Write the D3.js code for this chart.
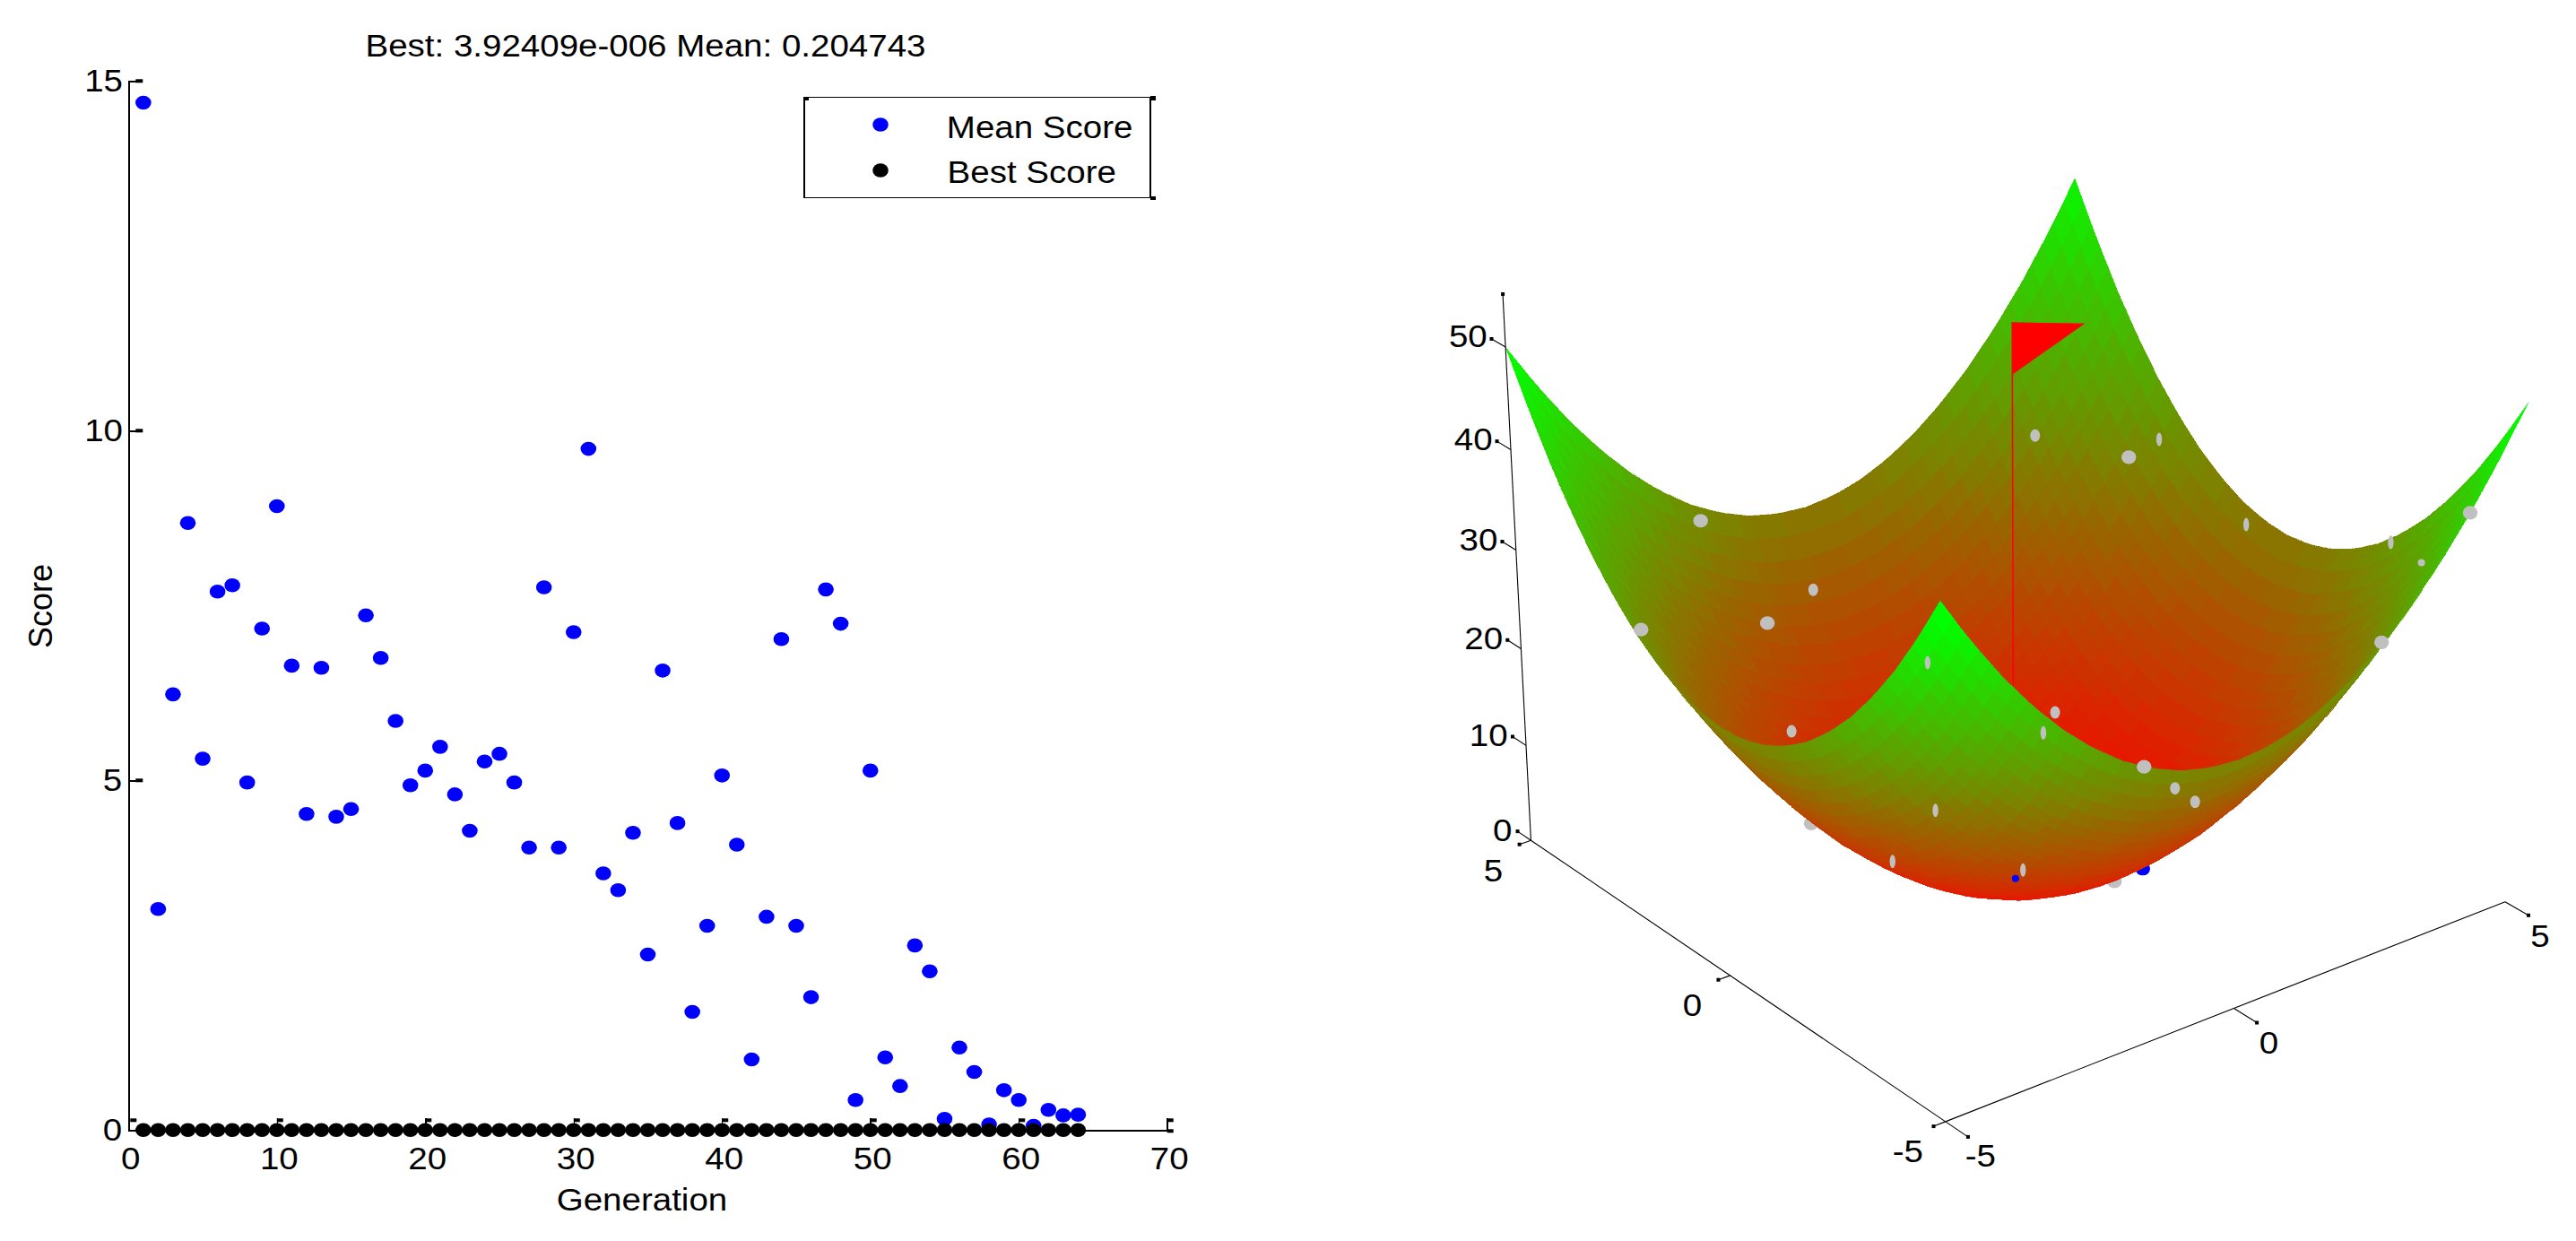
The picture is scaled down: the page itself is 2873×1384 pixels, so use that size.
<!DOCTYPE html>
<html>
<head>
<meta charset="utf-8">
<script src="https://d3js.org/d3.v7.min.js"></script>
<style>
  body { margin: 0; background: #fff; }
  text { font-family: "Liberation Sans", Arial, sans-serif; font-size: 35.5px; fill: #000;
    transform-box: fill-box; transform-origin: center; transform: scaleX(1.085); }
  text.upright { font-size: 36px; transform: none; }
</style>
</head>
<body>
<div id="chart"></div>
<script>
// Data ///////////////////////////////////////////////////////////////////////

var generations = [1,2,3,4,5,6,7,8,9,10,11,12,13,14,15,16,17,18,19,20,21,22,23,24,25,26,27,28,29,30,31,32,
  33,34,35,36,37,38,39,40,41,42,43,44,45,46,47,48,49,50,51,52,53,54,55,56,57,58,59,60,61,62,63,64];
var meanScore = [14.69,3.16,6.23,8.68,5.31,7.70,7.79,4.97,7.17,8.92,6.64,4.52,6.61,4.48,4.59,7.36,6.75,5.85,4.93,5.14,
  5.48,4.80,4.28,5.27,5.38,4.97,4.04,7.76,4.04,7.12,9.74,3.67,3.43,4.25,2.51,6.57,4.39,1.69,2.92,5.07,
  4.08,1.01,3.05,7.02,2.92,1.90,7.73,7.24,0.43,5.14,1.04,0.63,2.64,2.27,0.16,1.18,0.83,0.08,0.57,0.43,
  0.06,0.29,0.21,0.22];
var bestScore = [0,0,0,0,0,0,0,0,0,0,0,0,0,0,0,0,0,0,0,0,0,0,0,0,0,0,0,0,0,0,0,0,
  0,0,0,0,0,0,0,0,0,0,0,0,0,0,0,0,0,0,0,0,0,0,0,0,0,0,0,0,0,0,0,0.00000392409];

var xTicks = [0,10,20,30,40,50,60,70];
var yTicks = [0,5,10,15];
var legendLabels = ['Mean Score','Best Score'];

var row50 = [50,45.25,41,37.25,34,31.25,29,27.25,26,25.25,25,25.25,26,27.25,29,31.25,34,37.25,41,45.25,50];
var row45 = [45.25,40.5,36.25,32.5,29.25,26.5,24.25,22.5,21.25,20.5,20.25,20.5,21.25,22.5,24.25,26.5,29.25,32.5,36.25,40.5,45.25];
var row40 = [41,36.25,32,28.25,25,22.25,20,18.25,17,16.25,16,16.25,17,18.25,20,22.25,25,28.25,32,36.25,41];
var row35 = [37.25,32.5,28.25,24.5,21.25,18.5,16.25,14.5,13.25,12.5,12.25,12.5,13.25,14.5,16.25,18.5,21.25,24.5,28.25,32.5,37.25];
var row30 = [34,29.25,25,21.25,18,15.25,13,11.25,10,9.25,9,9.25,10,11.25,13,15.25,18,21.25,25,29.25,34];
var row25 = [31.25,26.5,22.25,18.5,15.25,12.5,10.25,8.5,7.25,6.5,6.25,6.5,7.25,8.5,10.25,12.5,15.25,18.5,22.25,26.5,31.25];
var row20 = [29,24.25,20,16.25,13,10.25,8,6.25,5,4.25,4,4.25,5,6.25,8,10.25,13,16.25,20,24.25,29];
var row15 = [27.25,22.5,18.25,14.5,11.25,8.5,6.25,4.5,3.25,2.5,2.25,2.5,3.25,4.5,6.25,8.5,11.25,14.5,18.25,22.5,27.25];
var row10 = [26,21.25,17,13.25,10,7.25,5,3.25,2,1.25,1,1.25,2,3.25,5,7.25,10,13.25,17,21.25,26];
var row05 = [25.25,20.5,16.25,12.5,9.25,6.5,4.25,2.5,1.25,0.5,0.25,0.5,1.25,2.5,4.25,6.5,9.25,12.5,16.25,20.5,25.25];
var row00 = [25,20.25,16,12.25,9,6.25,4,2.25,1,0.25,0,0.25,1,2.25,4,6.25,9,12.25,16,20.25,25];
var zGrid = [row50,row45,row40,row35,row30,row25,row20,row15,row10,row05,row00,
  row05,row10,row15,row20,row25,row30,row35,row40,row45,row50];

// population of the last generation, gray; how much of each dot clears the surface
var popX = [-1.92,-4.56,-1.40,-0.36,3.50,4.72,4.36,4.88,4.02,4.96,4.36,3.32,-4.78,2.12,-1.92,1.84,-1.64,2.32,2.14,-0.22,-3.34,-3.08,0.12,0.02];
var popY = [4.88,2.56,4.02,4.32,4.02,2.62,2.88,0.78,-5.00,-2.32,-3.66,-4.06,-4.42,1.76,2.74,1.68,-5.00,-0.80,-1.48,1.58,0.30,-1.26,-0.06,-2.30];
var popZ = [27.5,27.3,18.1,18.8,28.4,29.1,27.3,24.4,41.2,30.0,32.4,27.5,42.4,7.6,11.2,6.2,27.7,6.0,6.8,2.5,11.2,11.1,0.0,5.3];
var popShape = ['full','full','full','half','half','sliver','full','sliver','full','sliver','tip','full','sliver',
  'half','half','sliver','full','half','half','sliver','behind','sliver','sliver','behind'];

// the two blue points
var eliteX = [-1.98,0.32];
var eliteY = [-2.62,-2.56];
var eliteZ = [10.8,6.7];
var eliteShape = ['tip','behind'];

var axisTicks3d = [-5,0,5];
var zTicks = [0,10,20,30,40,50];

// Layout /////////////////////////////////////////////////////////////////////

var width = 2873, height = 1384;
var svg = d3.select('#chart').append('svg').attr('width', width).attr('height', height);

var x = d3.scaleLinear().domain([0,70]).range([143.3,1301.7]);
var y = d3.scaleLinear().domain([0,15]).range([1260.3,90.3]);

// Left plot //////////////////////////////////////////////////////////////////

var left = svg.append('g');

function square(g, px, py, w, h) {
  g.append('rect').attr('x', px).attr('y', py).attr('width', w).attr('height', h).attr('fill', '#000');
}

function dots(g, cx, cy, colour) {
  g.append('g').selectAll('ellipse').data(generations).enter().append('ellipse')
    .attr('cx', function(d){ return cx(d); })
    .attr('cy', function(d, i){ return cy(i); })
    .attr('rx', 8.8).attr('ry', 7.8).attr('fill', colour);
}

left.append('g').attr('transform', 'translate(0,' + y(0) + ')')
  .call(d3.axisBottom(x).tickValues(xTicks).tickSizeInner(-13).tickSizeOuter(0).tickPadding(19))
  .call(function(g){ g.selectAll('text').attr('dx', 2); });
left.append('g').attr('transform', 'translate(' + x(0) + ',0)')
  .call(d3.axisLeft(y).tickValues(yTicks).tickSizeInner(-14).tickSizeOuter(0).tickPadding(8));
left.selectAll('.domain, .tick line').attr('stroke', '#000').attr('stroke-width', 1.5).attr('shape-rendering', 'crispEdges');
left.selectAll('.tick text').style('font-family', '"Liberation Sans"').style('font-size', '35.5px').attr('fill', '#000');

xTicks.forEach(function(d){ square(left, x(d) + (d ? 0 : 2), y(0) - 13, 7, 4); });
yTicks.forEach(function(d){ square(left, x(0) + 8, y(d) - 2, 8, 4); });
square(left, x(70), y(0) - 1, 7, 4);

dots(left, x, function(i){ return y(meanScore[i]); }, '#0000ff');
dots(left, x, function(i){ return y(bestScore[i]); }, '#000');

left.append('text').attr('x', 720).attr('y', 63).attr('text-anchor', 'middle')
  .text('Best: 3.92409e-006 Mean: 0.204743');
left.append('text').attr('x', 716).attr('y', 1350).attr('text-anchor', 'middle').text('Generation');
// the css transform on text would override a transform attribute, so rotate a wrapper
left.append('g').attr('transform', 'translate(58,676) rotate(-90)')
  .append('text').attr('class', 'upright').attr('text-anchor', 'middle').text('Score');

// Legend
var legend = left.append('g');
legend.append('rect').attr('x', 897).attr('y', 108.5).attr('width', 386).attr('height', 112)
  .attr('fill', '#fff').attr('stroke', '#000').attr('stroke-width', 1.5).attr('shape-rendering', 'crispEdges');
square(legend, 897, 108, 5, 4);
square(legend, 1283, 107, 6, 5);
square(legend, 1283, 219, 6, 4);
legendLabels.forEach(function(d, i){
  legend.append('ellipse').attr('cx', 982).attr('cy', 139 + i * 51).attr('rx', 8.8).attr('ry', 7.8)
    .attr('fill', i ? '#000' : '#0000ff');
  legend.append('text').attr('x', 1064).attr('y', 154 + i * 50).text(d);
});

// Right plot: bowl surface ///////////////////////////////////////////////////

function project(px, py, pz) {
  var u = px / 5, v = py / 5, s = pz / 50 - 1;
  var w = 1 + 0.0311 * u + 0.0401 * v - 0.05 * s;
  return [
    (2244.35 + 392.35 * u - 157.8 * v - 114 * s) / w,
    (417.75 - 88.7 * u - 115.9 * v - 602 * s) / w,
    w
  ];
}

function zAt(px, py) {
  var fx = (px + 5) / 0.5, fy = (py + 5) / 0.5;
  var i = Math.min(Math.floor(fx), 19), j = Math.min(Math.floor(fy), 19);
  var a = fx - i, b = fy - j;
  return (1 - a) * (1 - b) * zGrid[j][i] + a * (1 - b) * zGrid[j][i + 1]
    + (1 - a) * b * zGrid[j + 1][i] + a * b * zGrid[j + 1][i + 1];
}

var colour = d3.scaleQuantize().domain([0,50]).range(d3.quantize(d3.interpolateRgb('#ff0000', '#00ff00'), 64));
var mesh = d3.range(0, 51).map(function(i){ return -5 + i * 0.2; });

var cells = [];
d3.range(50).forEach(function(i){
  d3.range(50).forEach(function(j){
    var corners = [[mesh[i],mesh[j]],[mesh[i+1],mesh[j]],[mesh[i+1],mesh[j+1]],[mesh[i],mesh[j+1]]];
    var pts = corners.map(function(c){ return project(c[0], c[1], zAt(c[0], c[1])); });
    cells.push({
      pts: pts,
      depth: d3.mean(pts, function(p){ return p[2]; }),
      back: 0.0311 * (mesh[i] + 0.1) + 0.0401 * (mesh[j] + 0.1) >= 0,
      z: zAt(mesh[i], mesh[j])
    });
  });
});
cells.sort(function(a, b){ return b.depth - a.depth; });

var right = svg.append('g');

function drawCells(list) {
  right.append('g').selectAll('polygon').data(list).enter().append('polygon')
    .attr('points', function(d){ return d.pts.map(function(p){ return p[0].toFixed(1) + ',' + p[1].toFixed(1); }).join(' '); })
    .attr('fill', function(d){ return colour(d.z); })
    .attr('stroke', function(d){ return colour(d.z); })
    .attr('stroke-width', 0.4)
    .attr('shape-rendering', 'crispEdges');
}

var shapeSize = { full: [8.2,7.6], behind: [8.2,7.6], half: [5.5,7], sliver: [3.2,7.5], tip: [4,4] };

function drawPoints(xs, ys, zs, shapes, fill, behind) {
  right.append('g').selectAll('ellipse')
    .data(xs.map(function(d, i){ return i; }).filter(function(i){ return (shapes[i] === 'behind') === behind; }))
    .enter().append('ellipse')
    .attr('cx', function(i){ return project(xs[i], ys[i], zs[i])[0]; })
    .attr('cy', function(i){ return project(xs[i], ys[i], zs[i])[1]; })
    .attr('rx', function(i){ return shapeSize[shapes[i]][0]; })
    .attr('ry', function(i){ return shapeSize[shapes[i]][1]; })
    .attr('fill', fill);
}

drawPoints(popX, popY, popZ, popShape, '#c0c0c0', true);
drawPoints(eliteX, eliteY, eliteZ, eliteShape, '#0000ff', true);

drawCells(cells.filter(function(d){ return d.back; }));

var poleTop = project(0, 0, 55), poleBottom = project(0, 0, 0), flagLow = project(0, 0, 50), flagTip = project(1.42, 0.2, 52);
right.append('line').attr('x1', poleTop[0]).attr('y1', poleTop[1]).attr('x2', poleBottom[0]).attr('y2', poleBottom[1])
  .attr('stroke', '#ff0000').attr('stroke-width', 1.5);
right.append('polygon').attr('points', [poleTop, flagTip, flagLow].map(function(p){ return p[0] + ',' + p[1]; }).join(' '))
  .attr('fill', '#ff0000');

drawCells(cells.filter(function(d){ return !d.back; }));

drawPoints(popX, popY, popZ, popShape, '#c0c0c0', false);
drawPoints(eliteX, eliteY, eliteZ, eliteShape, '#0000ff', false);

// 3D axes ////////////////////////////////////////////////////////////////////

function line3d(a, b) {
  var p = project(a[0], a[1], a[2]), q = project(b[0], b[1], b[2]);
  right.append('line').attr('x1', p[0]).attr('y1', p[1]).attr('x2', q[0]).attr('y2', q[1])
    .attr('stroke', '#000').attr('stroke-width', 1.1);
  return q;
}

function label3d(p, dx, dy, txt, anchor) {
  right.append('text').attr('x', p[0] + dx).attr('y', p[1] + dy).attr('dy', '0.35em')
    .attr('text-anchor', anchor).text(txt);
}

line3d([-5,-5,0], [5,-5,0]);
line3d([-5,-5,0], [-5,5,0]);
line3d([-5,5,0], [-5,5,55]);
square(right, project(-5,5,55)[0] - 2, project(-5,5,55)[1] - 3, 4, 4);

axisTicks3d.forEach(function(d){
  var e = line3d([-5,d,0], [-5.2,d,0]);
  square(right, e[0] - 2, e[1] - 2, 4, 4);
  label3d(project(-5,d,0), -42, 33, d, 'middle');
  e = line3d([d,-5,0], [d,-5.5,0]);
  square(right, e[0] - 2, e[1] - 2, 4, 4);
  label3d(project(d,-5,0), 39, 38, d, 'middle');
});
zTicks.forEach(function(d){
  var e = line3d([-5,5,d], [-5,5.35,d]);
  square(right, e[0] - 2, e[1] - 2, 4, 4);
  label3d(project(-5,5,d), -22, -12, d, 'end');
});
</script>
</body>
</html>
